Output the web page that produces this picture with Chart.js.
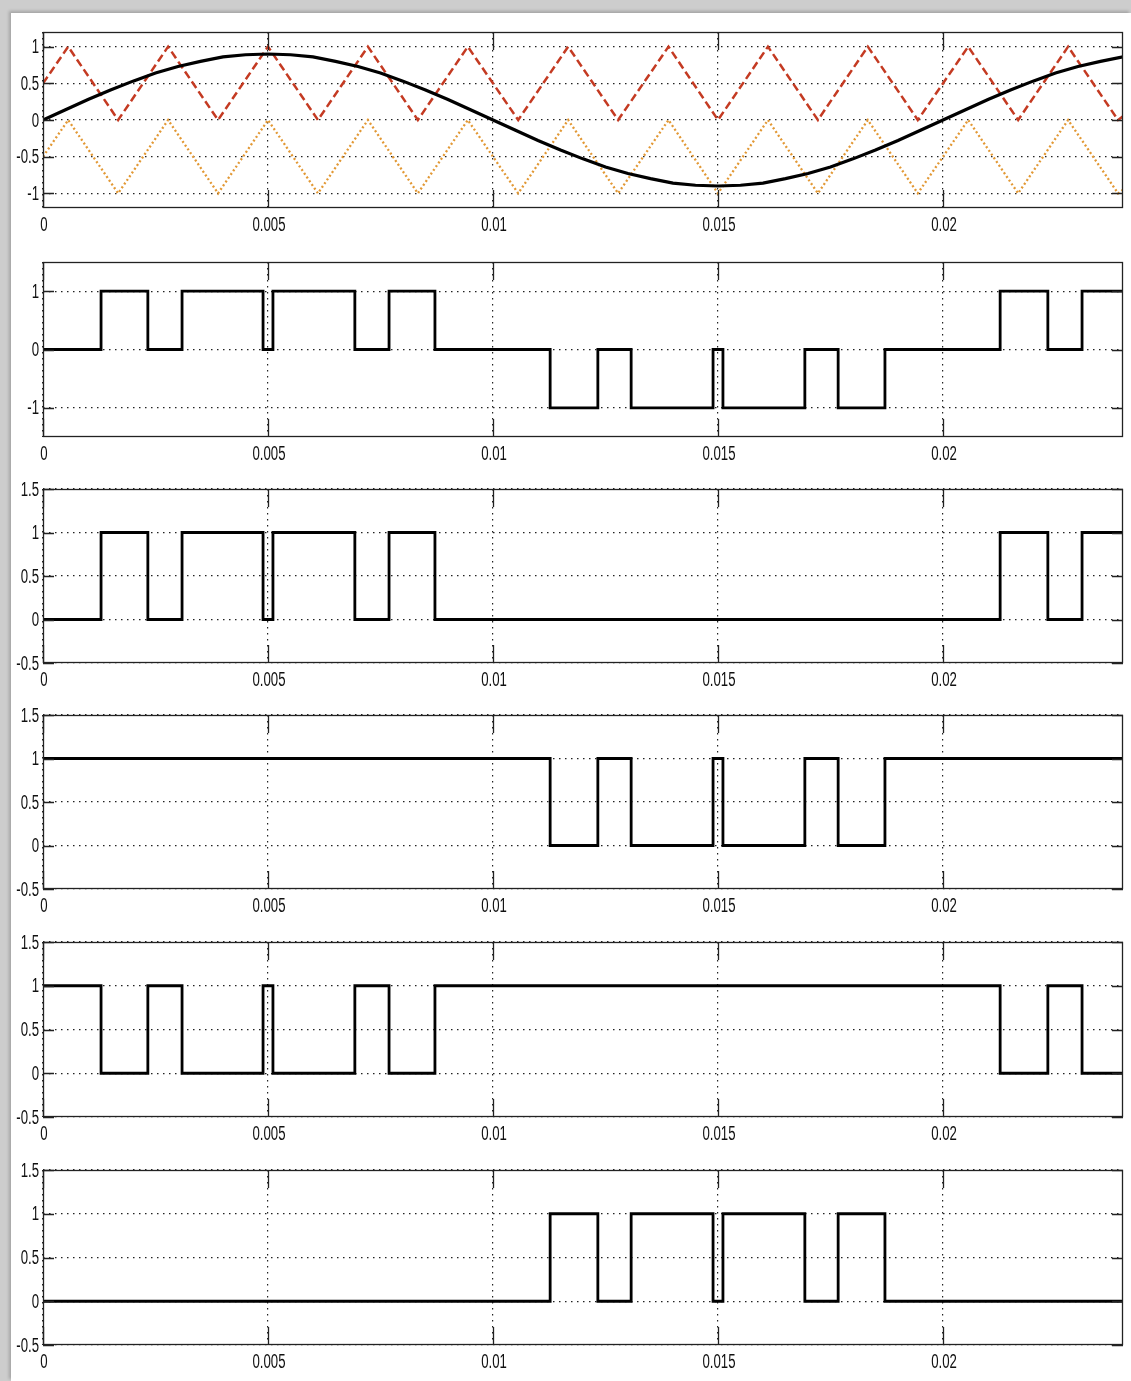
<!DOCTYPE html>
<html>
<head>
<meta charset="utf-8">
<script src="https://cdn.jsdelivr.net/npm/chart.js@4.4.0/dist/chart.umd.min.js"></script>
<style>
  html, body { margin: 0; padding: 0; }
  body { width: 1131px; height: 1381px; background: #cdcdcd; position: relative; overflow: hidden; }
  #sheet { position: absolute; left: 11px; top: 13px; right: 0; bottom: 0; background: #fff;
           box-shadow: -2px -2px 3px rgba(0,0,0,0.2); }
  canvas { position: absolute; left: 0; }
</style>
</head>
<body>
<div id="sheet"></div>
<script>
// reference (modulating) sine, read every 0.5 ms
const sineT = [0, 0.0005, 0.001, 0.0015, 0.002, 0.0025, 0.003, 0.0035, 0.004, 0.0045,
  0.005, 0.0055, 0.006, 0.0065, 0.007, 0.0075, 0.008, 0.0085, 0.009, 0.0095,
  0.01, 0.0105, 0.011, 0.0115, 0.012, 0.0125, 0.013, 0.0135, 0.014, 0.0145,
  0.015, 0.0155, 0.016, 0.0165, 0.017, 0.0175, 0.018, 0.0185, 0.019, 0.0195,
  0.02, 0.0205, 0.021, 0.0215, 0.022, 0.0225, 0.023, 0.0235, 0.024];
const sineV = [0, 0.14, 0.28, 0.41, 0.53, 0.64, 0.73, 0.80, 0.86, 0.89,
  0.90, 0.89, 0.86, 0.80, 0.73, 0.64, 0.53, 0.41, 0.28, 0.14,
  0, -0.14, -0.28, -0.41, -0.53, -0.64, -0.73, -0.80, -0.86, -0.89,
  -0.90, -0.89, -0.86, -0.80, -0.73, -0.64, -0.53, -0.41, -0.28, -0.14,
  0, 0.14, 0.28, 0.41, 0.53, 0.64, 0.73, 0.80, 0.86];

// triangular carriers (corner points)
const carrierT = [0, 0.00056, 0.00167, 0.00278, 0.00389, 0.005, 0.00611, 0.00722, 0.00833,
  0.00944, 0.01056, 0.01167, 0.01278, 0.0139, 0.015, 0.01611, 0.01722, 0.01833,
  0.01944, 0.02056, 0.02167, 0.02278, 0.02389, 0.024];
const carrierHigh = [0.5, 1, 0, 1, 0, 1, 0, 1, 0, 1, 0, 1, 0, 1, 0, 1, 0, 1, 0, 1, 0, 1, 0, 0.05];
const carrierLow = [-0.5, 0, -1, 0, -1, 0, -1, 0, -1, 0, -1, 0, -1, 0, -1, 0, -1, 0, -1, 0, -1, 0, -1, -0.95];

// switching instants and the level that starts at each instant
const switchT = [0, 0.00129, 0.00233, 0.00309, 0.00489, 0.00511, 0.00693, 0.00769, 0.00871,
  0.01127, 0.01233, 0.01307, 0.01489, 0.01511, 0.01693, 0.01767, 0.01871,
  0.02127, 0.02233, 0.02309, 0.024];
const vOut  = [0, 1, 0, 1, 0, 1, 0, 1, 0, -1, 0, -1, 0, -1, 0, -1, 0, 1, 0, 1, 1];
const gate1 = [0, 1, 0, 1, 0, 1, 0, 1, 0, 0, 0, 0, 0, 0, 0, 0, 0, 1, 0, 1, 1];
const gate2 = [1, 1, 1, 1, 1, 1, 1, 1, 1, 0, 1, 0, 1, 0, 1, 0, 1, 1, 1, 1, 1];
const gate3 = [1, 0, 1, 0, 1, 0, 1, 0, 1, 1, 1, 1, 1, 1, 1, 1, 1, 0, 1, 0, 0];
const gate4 = [0, 0, 0, 0, 0, 0, 0, 0, 0, 1, 0, 1, 0, 1, 0, 1, 0, 0, 0, 0, 0];

const xTicks = [0, 0.005, 0.01, 0.015, 0.02];
const yTicksCarrier = [-1, -0.5, 0, 0.5, 1];
const yTicksOut = [-1, 0, 1];
const yTicksGate = [-0.5, 0, 0.5, 1, 1.5];

const pts = (xs, ys) => xs.map((x, i) => ({ x: x, y: ys[i] }));

const PAD_TOP = 14, X_AXIS_H = 30;
const LABEL_FONT = "20px 'Liberation Sans', Arimo, Arial, sans-serif";

// box, inward tick marks on all four sides, and narrow tick labels
const boxPlugin = {
  id: 'matlabBox',
  afterDraw(chart) {
    const { ctx, chartArea: a, scales: { x, y } } = chart;
    ctx.save();
    ctx.strokeStyle = '#222';
    ctx.lineWidth = 1.3;
    ctx.strokeRect(a.left + 0.5, a.top + 0.5, a.right - a.left - 1, a.bottom - a.top - 1);
    ctx.beginPath();
    y.ticks.forEach(t => {
      const py = Math.round(y.getPixelForValue(t.value)) + 0.5;
      ctx.moveTo(a.left, py); ctx.lineTo(a.left + 11, py);
      ctx.moveTo(a.right, py); ctx.lineTo(a.right - 11, py);
    });
    x.ticks.forEach(t => {
      const px = Math.round(x.getPixelForValue(t.value)) + 0.5;
      ctx.moveTo(px, a.bottom); ctx.lineTo(px, a.bottom - 18);
      ctx.moveTo(px, a.top); ctx.lineTo(px, a.top + 18);
    });
    ctx.stroke();

    ctx.fillStyle = '#111';
    ctx.font = LABEL_FONT;
    ctx.textBaseline = 'middle';
    ctx.textAlign = 'right';
    y.ticks.forEach(t => {
      ctx.save();
      ctx.translate(a.left - 4, y.getPixelForValue(t.value) + 1);
      ctx.scale(0.66, 1);
      ctx.fillText(String(t.value), 0, 0);
      ctx.restore();
    });
    ctx.textAlign = 'center';
    x.ticks.forEach(t => {
      ctx.save();
      ctx.translate(x.getPixelForValue(t.value) + 1, a.bottom + 17);
      ctx.scale(0.66, 1);
      ctx.fillText(String(t.value), 0, 0);
      ctx.restore();
    });
    ctx.restore();
  }
};

function makeScales(yMin, yMax, yTicks) {
  const grid = { color: '#222', lineWidth: 1.2, drawTicks: false };
  const border = { display: false, dash: [1.5, 4.5] };
  return {
    x: {
      type: 'linear', min: 0, max: 0.024,
      grid: grid, border: border,
      afterBuildTicks: s => { s.ticks = xTicks.map(v => ({ value: v })); },
      afterFit: s => { s.height = X_AXIS_H; },
      ticks: { display: false }
    },
    y: {
      type: 'linear', min: yMin, max: yMax,
      grid: grid, border: border,
      afterBuildTicks: s => { s.ticks = yTicks.map(v => ({ value: v })); },
      afterFit: s => { s.width = 43; },
      ticks: { display: false }
    }
  };
}

function addPlot(top, height, datasets, yMin, yMax, yTicks) {
  const c = document.createElement('canvas');
  c.width = 1131;
  c.height = PAD_TOP + height + X_AXIS_H;
  c.style.top = (top - PAD_TOP) + 'px';
  c.style.width = '1131px';
  c.style.height = c.height + 'px';
  document.body.appendChild(c);
  new Chart(c, {
    type: 'line',
    data: { datasets: datasets },
    options: {
      responsive: false, animation: false, devicePixelRatio: 1,
      layout: { padding: { top: PAD_TOP, right: 8, left: 0, bottom: 0 } },
      plugins: { legend: { display: false }, tooltip: { enabled: false } },
      elements: { point: { radius: 0 }, line: { tension: 0 } },
      scales: makeScales(yMin, yMax, yTicks)
    },
    plugins: [boxPlugin]
  });
}

function pulse(levels) {
  return { data: pts(switchT, levels), borderColor: '#000', borderWidth: 2.8, stepped: 'before', fill: false };
}

addPlot(32, 176, [
  { data: pts(sineT, sineV), borderColor: '#000', borderWidth: 3.2, fill: false },
  { data: pts(carrierT, carrierHigh), borderColor: 'rgb(196,58,34)', borderWidth: 2.5, borderDash: [8, 4], fill: false },
  { data: pts(carrierT, carrierLow), borderColor: 'rgb(226,152,52)', borderWidth: 2.3, borderDash: [2, 2.5], fill: false }
], -1.2, 1.2, yTicksCarrier);
addPlot(262, 175, [pulse(vOut)], -1.5, 1.5, yTicksOut);
addPlot(489, 174, [pulse(gate1)], -0.5, 1.5, yTicksGate);
addPlot(715, 174, [pulse(gate2)], -0.5, 1.5, yTicksGate);
addPlot(942, 175, [pulse(gate3)], -0.5, 1.5, yTicksGate);
addPlot(1170, 175, [pulse(gate4)], -0.5, 1.5, yTicksGate);
</script>
</body>
</html>
